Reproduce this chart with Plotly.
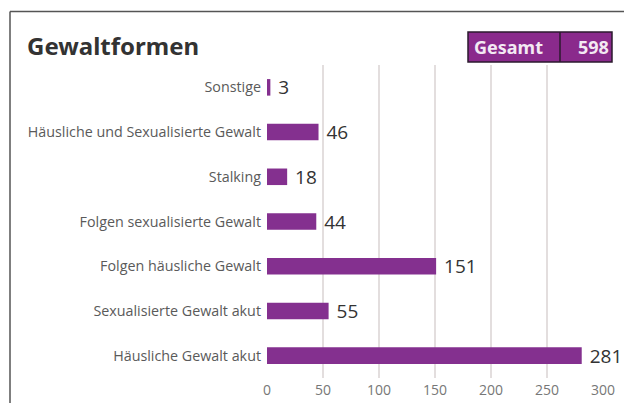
import plotly.graph_objects as go

categories = [
    "Häusliche Gewalt akut",
    "Sexualisierte Gewalt akut",
    "Folgen häusliche Gewalt",
    "Folgen sexualisierte Gewalt",
    "Stalking",
    "Häusliche und Sexualisierte Gewalt",
    "Sonstige",
]
values = [281, 55, 151, 44, 18, 46, 3]
x_ticks = [0, 50, 100, 150, 200, 250, 300]
title_text = "Gewaltformen"
total_label = "Gesamt"
total_value = 598

# page body has an 8px margin; figure sized to fit inside the window
OFF = 8
W, H = 632 - 2 * OFF, 411 - 2 * OFF
BAR = "#84308f"

def px(x):
    return (x - OFF) / W

def py(y):
    return (H - (y - OFF)) / H

fig = go.Figure(
    go.Bar(
        x=values,
        y=categories,
        orientation="h",
        marker=dict(color=BAR, line=dict(width=0)),
        width=0.37,
        text=["\u00a0" + str(v) for v in values],
        textposition="outside",
        constraintext="none",
        textfont=dict(family="Open Sans", size=19, color="#333333"),
        cliponaxis=False,
        hoverinfo="skip",
    )
)

fig.update_layout(
    width=W,
    height=H,
    margin=dict(l=0, r=0, t=0, b=0),
    paper_bgcolor="white",
    plot_bgcolor="white",
    showlegend=False,
    xaxis=dict(
        domain=[px(267), px(603)],
        range=[0, 300],
        tickvals=x_ticks,
        ticktext=[str(t) for t in x_ticks],
        showgrid=True,
        gridcolor="#e3dede",
        gridwidth=1.5,
        zeroline=False,
        showline=False,
        ticks="",
        ticklabelstandoff=2,
        tickfont=dict(family="Open Sans", size=14, color="#777777"),
        automargin=False,
        fixedrange=True,
    ),
    yaxis=dict(
        domain=[py(378), py(65)],
        categoryorder="array",
        categoryarray=categories,
        showgrid=False,
        zeroline=False,
        showline=False,
        ticks="",
        ticklabelstandoff=5,
        tickfont=dict(family="Open Sans", size=14.3, color="#5a5a5a"),
        automargin=False,
        fixedrange=True,
    ),
    shapes=[
        dict(type="line", xref="paper", yref="paper",
             x0=px(10), x1=px(10), y0=0, y1=py(11.5),
             line=dict(color="#555555", width=1.5)),
        dict(type="line", xref="paper", yref="paper",
             x0=px(10), x1=px(627.5), y0=py(11.5), y1=py(11.5),
             line=dict(color="#555555", width=1.5)),
        dict(type="line", xref="paper", yref="paper",
             x0=px(627.5), x1=px(627.5), y0=0, y1=py(11.5),
             line=dict(color="#9a9a9a", width=1.5)),
        dict(type="rect", xref="paper", yref="paper",
             x0=px(468), x1=px(612), y0=py(62), y1=py(32),
             line=dict(color="#2b1a2e", width=1.5), fillcolor="#8a2a8c"),
        dict(type="line", xref="paper", yref="paper",
             x0=px(560), x1=px(560), y0=py(62), y1=py(32),
             line=dict(color="#2b1a2e", width=1.5)),
    ],
    annotations=[
        dict(text=f"<b>{title_text}</b>", xref="paper", yref="paper",
             x=px(25), y=py(45), xanchor="left", yanchor="middle", showarrow=False,
             font=dict(family="Noto Sans", size=24, color="#333333")),
        dict(text=f"<b>{total_label}</b>", xref="paper", yref="paper",
             x=px(472), y=py(47), xanchor="left", yanchor="middle", showarrow=False,
             font=dict(family="Noto Sans", size=18, color="#f3e9f3")),
        dict(text=f"<b>{total_value}</b>", xref="paper", yref="paper",
             x=px(611), y=py(47), xanchor="right", yanchor="middle", showarrow=False,
             font=dict(family="Noto Sans", size=18, color="#f3e9f3")),
    ],
)

fig.write_html("out.html")
